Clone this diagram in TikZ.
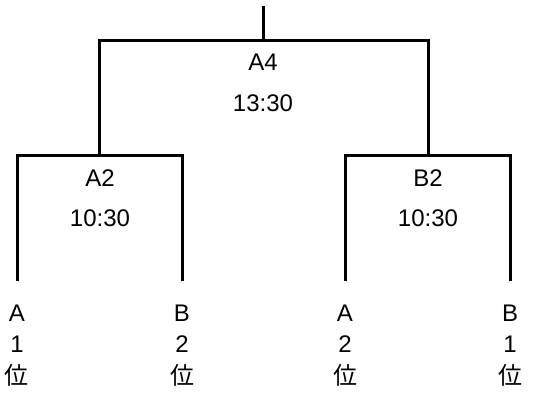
\documentclass[tikz,border=0pt]{standalone}
\usepackage{fontspec}
\setmainfont{Liberation Sans}
\newfontfamily\jpfont{Noto Sans CJK JP}

\begin{document}
\begin{tikzpicture}[x=1pt,y=-1pt,line width=3pt,
	lbl/.style={font=\fontsize{24}{28}\selectfont,inner sep=0pt}]
		\useasboundingbox (0,0) rectangle (536,392);
		\coordinate (root) at (263,6);
		\coordinate (final) at (263,40);
		\coordinate (semiA) at (99,155);
		\coordinate (semiB) at (428,155);
		\foreach \x/\t/\n [count=\i] in {17/A/1,182/B/2,345/A/2,510/B/1}{
		\coordinate (end\i) at (\x,281);
		\node[lbl] (team\i) at (\x,313) {\t};
		\node[lbl] (rank\i) at (\x,344) {\n};
		\node[lbl] (pos\i) at (\x,375) {\jpfont 位};
		}
		\draw (end1) |- (semiA) -| (end2);
		\draw (end3) |- (semiB) -| (end4);
		\draw (semiA) |- (final) -| (semiB);
		\draw (final) -- (root);
		\node[lbl] (gameA4) at (263,62) {A4};
		\node[lbl] (timeA4) at (263,103) {13:30};
		\node[lbl] (gameA2) at (100,178) {A2};
		\node[lbl] (timeA2) at (100,218) {10:30};
		\node[lbl] (gameB2) at (428,178) {B2};
		\node[lbl] (timeB2) at (428,218) {10:30};
		\end{tikzpicture}
\end{document}
